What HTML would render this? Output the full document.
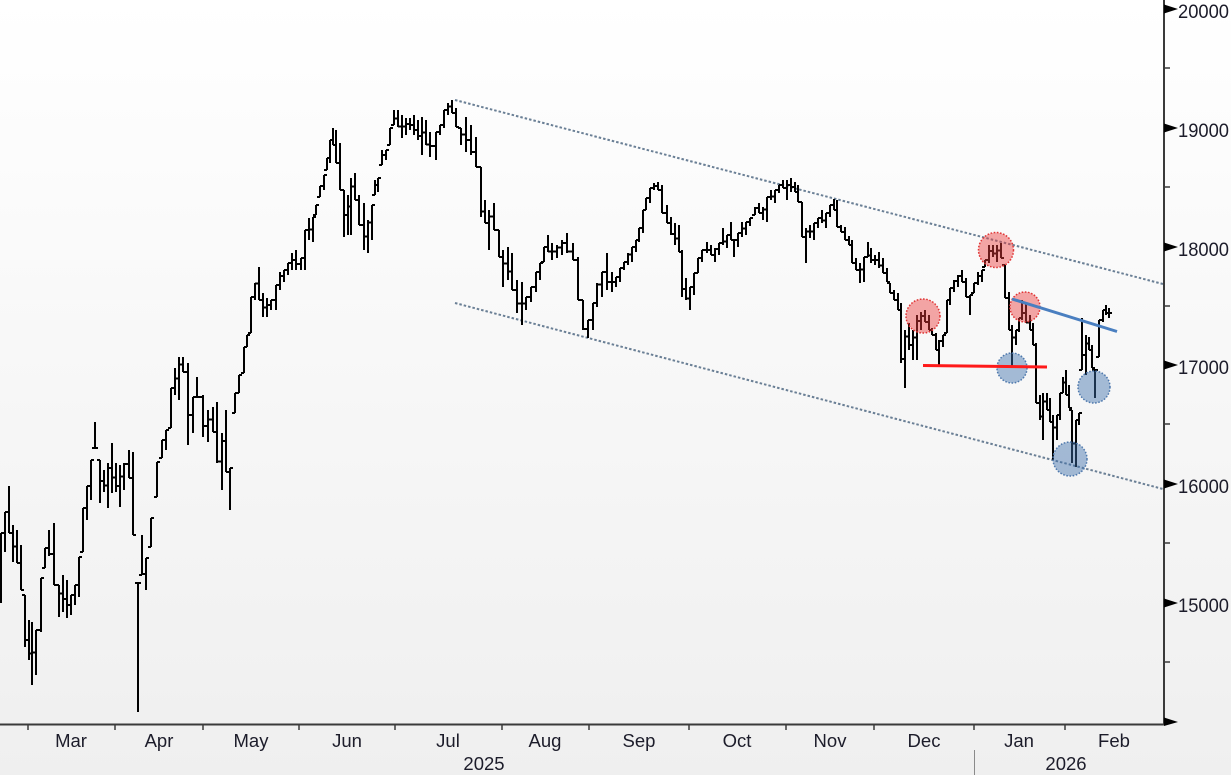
<!DOCTYPE html>
<html><head><meta charset="utf-8"><style>
html,body{margin:0;padding:0;width:1231px;height:775px;overflow:hidden;background:#f4f4f4}
svg{display:block}
text{font-family:"Liberation Sans",sans-serif}
</style></head><body>
<svg width="1231" height="775" viewBox="0 0 1231 775" xmlns="http://www.w3.org/2000/svg">
<defs><linearGradient id="bg" x1="0" y1="0" x2="0" y2="1"><stop offset="0" stop-color="#ffffff"/><stop offset="1" stop-color="#efefef"/></linearGradient></defs>
<rect x="0" y="0" width="1231" height="775" fill="url(#bg)"/>
<!-- channel lines -->
<line x1="455" y1="100" x2="1163" y2="284" stroke="#6a7f95" stroke-width="2" stroke-dasharray="2.5 2"/>
<line x1="455" y1="303" x2="1163" y2="489" stroke="#6a7f95" stroke-width="2" stroke-dasharray="2.5 2"/>
<!-- bars -->
<path id="bars" fill="none" stroke="#000" stroke-width="2" d="M1 533V603M5 512V552M9 486V533M13 525V562M17 530V563M21 545V590M25 595V647M29 620V660M32 622V685M36 630V675M41 578V632M45 548V568M49 530V556M54 523V585M59 585V617M63 575V612M67 580V618M71 595V615M75 585V605M79 557V597M83 508V552M87 486V520M91 460V500M95 422V448M100 460V503M104 470V492M108 463V508M112 443V493M116 463V492M120 465V507M124 463V490M129 450V478M133 452V535M138 583V712M142 535V575M146 558V590M151 518V547M157 462V497M162 440V458M166 430V450M171 388V428M175 368V395M179 357V400M183 357V372M188 363V445M193 397V433M197 377V397M203 395V437M208 410V442M213 407V432M217 402V463M222 433V490M226 410V472M230 468V510M235 393V413M239 375V393M244 347V373M247 335V347M251 297V333M255 283V300M259 267V300M263 293V317M267 298V317M271 300V310M276 285V310M280 272V290M284 270V282M288 263V275M292 253V270M296 250V270M301 258V270M305 230V270M309 218V240M313 217V242M316 205V215M320 186V197M324 175V190M327 158V170M330 140V163M333 128V145M336 130V163M340 143V190M344 190V237M348 195V235M351 178V235M355 173V200M359 195V225M364 203V250M368 220V253M372 205V240M375 180V195M378 178V192M382 150V165M386 150V160M390 128V145M394 110V125M398 110V127M402 115V138M406 118V135M410 118V130M414 115V135M418 120V140M422 117V155M426 120V145M430 132V157M436 132V160M440 125V135M444 110V128M448 103V115M452 100V113M456 108V127M461 128V145M466 117V152M471 125V155M476 137V167M481 167V217M485 200V223M489 210V250M494 203V230M499 230V257M503 250V287M508 247V280M512 253V290M517 280V313M522 282V325M526 297V310M531 287V302M536 272V292M540 263V280M544 247V262M548 235V252M552 243V260M557 245V258M562 240V255M567 233V253M573 243V260M578 257V300M583 300V330M588 320V338M593 303V330M597 283V307M602 272V297M607 253V290M612 272V292M616 277V287M620 268V282M624 262V270M628 253V265M632 247V262M636 240V252M639 228V242M643 210V233M646 198V210M650 188V203M654 183V190M658 182V190M662 185V213M667 205V223M671 217V235M675 223V245M679 225V252M682 250V297M686 278V300M690 287V310M694 273V295M698 258V273M702 250V262M707 242V253M711 245V255M715 248V262M719 243V255M723 228V245M727 235V248M731 222V240M734 240V257M738 233V247M742 222V237M746 222V235M750 218V226M755 207V215M759 203V213M763 207V220M767 197V222M771 190V200M775 190V203M779 185V193M783 180V188M787 180V200M791 178V192M795 182V192M798 185V202M802 202V237M806 228V263M810 225V238M814 223V240M818 218V228M822 210V223M826 213V228M830 205V217M834 199V210M837 200V227M841 225V232M845 227V240M849 236V245M852 240V263M856 258V270M860 263V283M864 257V282M868 242V257M871 248V263M875 255V265M879 252V268M883 258V273M887 268V282M890 283V293M894 290V300M898 293V310M901 303V363M905 330V388M909 323V350M913 330V360M917 315V360M921 312V330M925 310V322M929 315V330M932 328V335M936 333V350M939 340V365M943 335V347M947 300V333M950 288V305M954 280V292M958 275V287M962 270V282M966 278V297M970 295V315M974 283V293M978 272V285M982 270V282M985 260V267M989 245V263M993 245V257M997 245V262M1001 243V258M1005 265V298M1009 292V330M1012 325V368M1016 330V345M1019 318V332M1022 300V320M1026 303V323M1030 315V330M1033 323V345M1036 343V403M1040 395V420M1043 393V440M1047 393V410M1050 398V422M1053 415V460M1057 415V440M1060 393V420M1063 377V393M1066 370V395M1069 385V408M1072 410V463M1076 420V467M1079 413V425M1082 318V370M1086 335V375M1089 337V350M1092 345V368M1095 370V398M1099 320V357M1103 310V322M1106 305V315M1109 308V318"/>
<path id="ticks" fill="none" stroke="#000" stroke-width="2" d=""/>
<!-- circles -->
<g stroke-width="1.5" stroke-dasharray="1.6 1.6">
<circle cx="923" cy="316" r="17" fill="rgba(235,60,60,0.45)" stroke="#e03535"/>
<circle cx="996" cy="250" r="17.5" fill="rgba(235,60,60,0.45)" stroke="#e03535"/>
<circle cx="1025" cy="307" r="15" fill="rgba(235,60,60,0.45)" stroke="#e03535"/>
<circle cx="1012" cy="368" r="15" fill="rgba(60,110,170,0.45)" stroke="#4f79ad"/>
<circle cx="1070" cy="459" r="17" fill="rgba(60,110,170,0.45)" stroke="#4f79ad"/>
<circle cx="1094" cy="387" r="16" fill="rgba(60,110,170,0.45)" stroke="#4f79ad"/>
</g>
<line x1="923" y1="365.5" x2="1047" y2="367" stroke="#ff1a1a" stroke-width="3"/>
<line x1="1012" y1="299" x2="1117" y2="331.5" stroke="#4a7fc0" stroke-width="3"/>
<!-- axes -->
<line x1="0" y1="724.5" x2="1165" y2="724.5" stroke="#3a3a3a" stroke-width="2"/>
<line x1="1164" y1="0" x2="1164" y2="725" stroke="#3a3a3a" stroke-width="2"/>
<g fill="#000">
<polygon points="1164,4.5 1178,9 1164,13.5"/>
<polygon points="1164,123.5 1178,128 1164,132.5"/>
<polygon points="1164,242.5 1178,247 1164,251.5"/>
<polygon points="1164,360.5 1178,365 1164,369.5"/>
<polygon points="1164,479.5 1178,484 1164,488.5"/>
<polygon points="1164,598.5 1178,603 1164,607.5"/>
<polygon points="1164,717.5 1178,722 1164,726"/>
</g>
<g stroke="#3a3a3a" stroke-width="1.5">
<line x1="1164" y1="68" x2="1170" y2="68"/>
<line x1="1164" y1="187" x2="1170" y2="187"/>
<line x1="1164" y1="306" x2="1170" y2="306"/>
<line x1="1164" y1="424" x2="1170" y2="424"/>
<line x1="1164" y1="543" x2="1170" y2="543"/>
<line x1="1164" y1="662" x2="1170" y2="662"/>
</g>
<g stroke="#3a3a3a" stroke-width="1.5">
<line x1="28" y1="724" x2="28" y2="730"/><line x1="115" y1="724" x2="115" y2="730"/>
<line x1="203" y1="724" x2="203" y2="730"/><line x1="299" y1="724" x2="299" y2="730"/>
<line x1="395" y1="724" x2="395" y2="730"/><line x1="502" y1="724" x2="502" y2="730"/>
<line x1="589" y1="724" x2="589" y2="730"/><line x1="689" y1="724" x2="689" y2="730"/>
<line x1="786" y1="724" x2="786" y2="730"/><line x1="874" y1="724" x2="874" y2="730"/>
<line x1="974" y1="724" x2="974" y2="730"/><line x1="1065" y1="724" x2="1065" y2="730"/>
</g>
<line x1="974.5" y1="750" x2="974.5" y2="775" stroke="#8a8a8a" stroke-width="1"/>
<g font-size="19" fill="#1c1c2a">
<text x="1178" y="18" textLength="51" lengthAdjust="spacingAndGlyphs">20000</text>
<text x="1178" y="137" textLength="51" lengthAdjust="spacingAndGlyphs">19000</text>
<text x="1178" y="256" textLength="51" lengthAdjust="spacingAndGlyphs">18000</text>
<text x="1178" y="374" textLength="51" lengthAdjust="spacingAndGlyphs">17000</text>
<text x="1178" y="493" textLength="51" lengthAdjust="spacingAndGlyphs">16000</text>
<text x="1178" y="612" textLength="51" lengthAdjust="spacingAndGlyphs">15000</text>
</g>
<g font-size="18.5" fill="#1c1c2a" text-anchor="middle">
<text x="71" y="747">Mar</text>
<text x="159" y="747">Apr</text>
<text x="251" y="747">May</text>
<text x="347" y="747">Jun</text>
<text x="448" y="747">Jul</text>
<text x="545" y="747">Aug</text>
<text x="639" y="747">Sep</text>
<text x="737" y="747">Oct</text>
<text x="830" y="747">Nov</text>
<text x="924" y="747">Dec</text>
<text x="1019" y="747">Jan</text>
<text x="1114" y="747">Feb</text>
<text x="484" y="770">2025</text>
<text x="1066" y="770">2026</text>
</g>
</svg>
<script>
(function(){
var p=document.getElementById('bars');var d=p.getAttribute('d');
var re=/M([\d.]+) ([\d.]+)V([\d.]+)/g,m,b=[];
while((m=re.exec(d))){b.push([+m[1],+m[2],+m[3]]);}
var t='',pc=null;
for(var i=0;i<b.length;i++){
 var x=b[i][0],h=b[i][1],l=b[i][2];
 var cl=function(v){return Math.max(h,Math.min(l,v));};
 var n=b[i+1];
 var c=n?cl((n[1]+n[2])/2):(h+l)/2;
 var o=pc===null?(h+l)/2:cl(pc);
 t+='M'+(x-3)+' '+o+'H'+x+'M'+x+' '+c+'H'+(x+3);
 pc=c;
}
document.getElementById('ticks').setAttribute('d',t);
})();
</script>
</body></html>
